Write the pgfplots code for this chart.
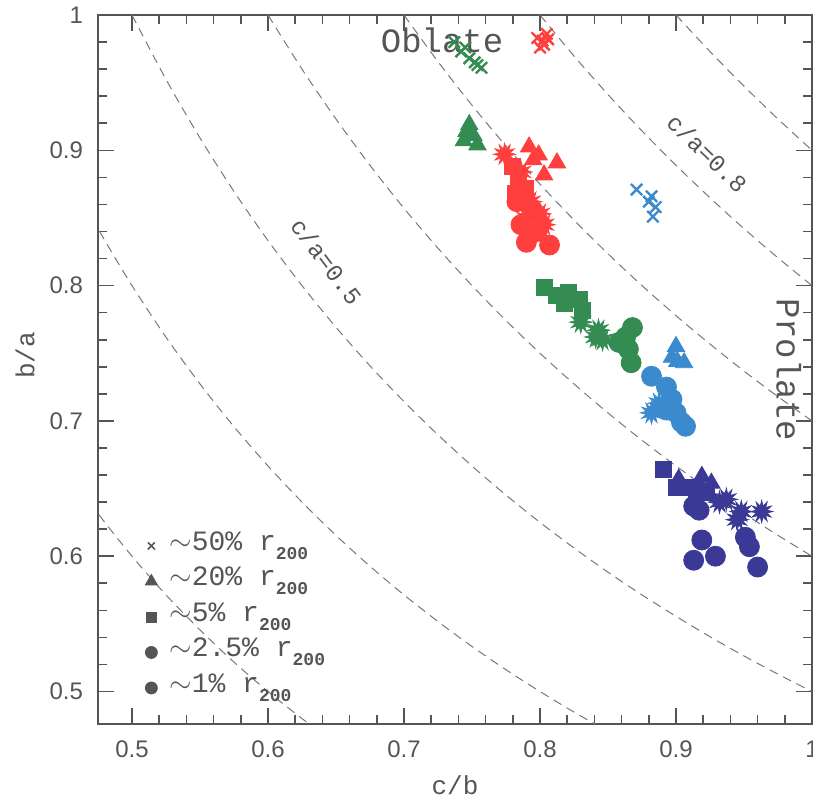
\documentclass[border=0pt]{standalone}
\usepackage{fontspec}
\setmainfont{Liberation Sans}
\newfontfamily\monof{Liberation Mono}
\usepackage{pgfplots}
\pgfplotsset{compat=1.18}
\usetikzlibrary{calc}

\definecolor{cred}{RGB}{255,62,62}
\definecolor{cgreen}{RGB}{52,140,82}
\definecolor{clblue}{RGB}{58,138,205}
\definecolor{cdblue}{RGB}{58,58,150}
\definecolor{cgray}{RGB}{85,85,85}
\definecolor{cdash}{RGB}{120,120,120}

\pgfdeclareplotmark{burst}{%
  \pgfpathmoveto{\pgfpointpolar{0}{\pgfplotmarksize}}%
  \pgfpathlineto{\pgfpointpolar{15}{0.5*\pgfplotmarksize}}%
  \pgfpathlineto{\pgfpointpolar{30}{\pgfplotmarksize}}%
  \pgfpathlineto{\pgfpointpolar{45}{0.5*\pgfplotmarksize}}%
  \pgfpathlineto{\pgfpointpolar{60}{\pgfplotmarksize}}%
  \pgfpathlineto{\pgfpointpolar{75}{0.5*\pgfplotmarksize}}%
  \pgfpathlineto{\pgfpointpolar{90}{\pgfplotmarksize}}%
  \pgfpathlineto{\pgfpointpolar{105}{0.5*\pgfplotmarksize}}%
  \pgfpathlineto{\pgfpointpolar{120}{\pgfplotmarksize}}%
  \pgfpathlineto{\pgfpointpolar{135}{0.5*\pgfplotmarksize}}%
  \pgfpathlineto{\pgfpointpolar{150}{\pgfplotmarksize}}%
  \pgfpathlineto{\pgfpointpolar{165}{0.5*\pgfplotmarksize}}%
  \pgfpathlineto{\pgfpointpolar{180}{\pgfplotmarksize}}%
  \pgfpathlineto{\pgfpointpolar{195}{0.5*\pgfplotmarksize}}%
  \pgfpathlineto{\pgfpointpolar{210}{\pgfplotmarksize}}%
  \pgfpathlineto{\pgfpointpolar{225}{0.5*\pgfplotmarksize}}%
  \pgfpathlineto{\pgfpointpolar{240}{\pgfplotmarksize}}%
  \pgfpathlineto{\pgfpointpolar{255}{0.5*\pgfplotmarksize}}%
  \pgfpathlineto{\pgfpointpolar{270}{\pgfplotmarksize}}%
  \pgfpathlineto{\pgfpointpolar{285}{0.5*\pgfplotmarksize}}%
  \pgfpathlineto{\pgfpointpolar{300}{\pgfplotmarksize}}%
  \pgfpathlineto{\pgfpointpolar{315}{0.5*\pgfplotmarksize}}%
  \pgfpathlineto{\pgfpointpolar{330}{\pgfplotmarksize}}%
  \pgfpathlineto{\pgfpointpolar{345}{0.5*\pgfplotmarksize}}%
  \pgfpathclose
  \pgfusepathqfillstroke}

\begin{document}
\begin{tikzpicture}
\begin{axis}[
  scale only axis, width=357pt, height=354.5pt,
  xmin=0.475, xmax=1.0, ymin=0.476, ymax=1.0,
  xtick={0.5,0.6,0.7,0.8,0.9,1.0}, xticklabels={0.5,0.6,0.7,0.8,0.9,1},
  ytick={0.5,0.6,0.7,0.8,0.9,1.0}, yticklabels={0.5,0.6,0.7,0.8,0.9,1},
  minor x tick num=4, minor y tick num=4,
  tick align=inside, major tick length=8pt, minor tick length=4.5pt,
  axis line style={cgray, line width=1pt},
  every tick/.style={cgray, line width=0.8pt},
  tick label style={font=\fontsize{12}{12}\selectfont, text=cgray},
  /pgf/number format/assume math mode=true,
  yticklabel style={xshift=-4pt},
  xticklabel style={yshift=-5pt},
  xlabel={\monof c/b}, ylabel={\monof b/a},
  label style={font=\monof\fontsize{13}{13}\selectfont, text=cgray},
  xlabel style={at={(axis description cs:0.5,-0.086)}, anchor=center},
  ylabel style={at={(axis description cs:-0.102,0.52)}, anchor=center},
  legend style={at={(axis cs:0.5095,0.621)}, anchor=north west, draw=none, fill=none,
    inner sep=0pt, font=\monof\fontsize{14}{14}\selectfont, text=cgray,
    nodes={text height=11pt, text depth=6.75pt, inner ysep=0pt, inner xsep=1pt},
    /tikz/every odd column/.style={column sep=5pt}},
  legend cell align=left,
  legend image code/.code={\draw[#1] plot coordinates {(0pt,0pt)};},
]
% legend
\addlegendimage{mark=x, mark size=2.5pt, cgray, line width=0.8pt}
\addlegendentry{$\sim$50\% r\raisebox{-0.6ex}{\fontsize{9}{9}\selectfont\bfseries 200}}
\addlegendimage{mark=triangle*, mark size=3.5pt, cgray}
\addlegendentry{$\sim$20\% r\raisebox{-0.6ex}{\fontsize{9}{9}\selectfont\bfseries 200}}
\addlegendimage{mark=square*, mark size=2.5pt, cgray}
\addlegendentry{$\sim$5\% r\raisebox{-0.6ex}{\fontsize{9}{9}\selectfont\bfseries 200}}
\addlegendimage{mark=*, mark size=3pt, cgray}
\addlegendentry{$\sim$2.5\% r\raisebox{-0.6ex}{\fontsize{9}{9}\selectfont\bfseries 200}}
\addlegendimage{mark=*, mark size=3pt, cgray}
\addlegendentry{$\sim$1\% r\raisebox{-0.6ex}{\fontsize{9}{9}\selectfont\bfseries 200}}

\node[font=\monof\fontsize{17}{17}\selectfont, text=cgray] at (axis cs:0.728,0.981) {Oblate};
\node[font=\monof\fontsize{17}{17}\selectfont, text=cgray, rotate=-90] at (axis cs:0.983,0.738) {Prolate};
\node[font=\monof\fontsize{12}{12}\selectfont, text=cgray, rotate=-53] at (axis cs:0.643,0.818) {c/a=0.5};
\node[font=\monof\fontsize{12}{12}\selectfont, text=cgray, rotate=-44] at (axis cs:0.923,0.898) {c/a=0.8};

% ---------------- red
\addplot[forget plot, only marks, mark=x, mark size=4pt, cred, line width=1.2pt] coordinates {
 (0.798,0.983) (0.803,0.978) (0.806,0.982) (0.800,0.976) (0.805,0.986) (0.802,0.981)};
\addplot[forget plot, only marks, mark=triangle*, mark size=5pt, cred] coordinates {
 (0.792,0.9025) (0.799,0.8966) (0.8125,0.8907) (0.803,0.8818) (0.795,0.893)};
\addplot[forget plot, only marks, mark=square*, mark size=4pt, cred] coordinates {
 (0.780,0.888) (0.784,0.877) (0.782,0.868) (0.789,0.872)};
\addplot[forget plot, only marks, mark=burst, mark size=5.5pt, cred] coordinates {
 (0.774,0.897) (0.786,0.884) (0.793,0.862) (0.800,0.853) (0.803,0.845) (0.790,0.850)};
\addplot[forget plot, only marks, mark=*, mark size=5pt, cred] coordinates {
 (0.790,0.832) (0.807,0.830) (0.786,0.845) (0.798,0.840) (0.783,0.862) (0.795,0.855)};
% ---------------- green
\addplot[forget plot, only marks, mark=x, mark size=4pt, cgreen, line width=1.2pt] coordinates {
 (0.737,0.980) (0.742,0.973) (0.748,0.968) (0.752,0.965) (0.757,0.961) (0.745,0.976) (0.754,0.963)};
\addplot[forget plot, only marks, mark=triangle*, mark size=5pt, cgreen] coordinates {
 (0.748,0.919) (0.751,0.911) (0.754,0.904) (0.744,0.907) (0.746,0.914)};
\addplot[forget plot, only marks, mark=square*, mark size=4pt, cgreen] coordinates {
 (0.803,0.799) (0.812,0.793) (0.821,0.795) (0.829,0.790) (0.818,0.787) (0.831,0.782)};
\addplot[forget plot, only marks, mark=burst, mark size=5.5pt, cgreen] coordinates {
 (0.830,0.773) (0.843,0.767) (0.846,0.760) (0.841,0.762)};
\addplot[forget plot, only marks, mark=*, mark size=5pt, cgreen] coordinates {
 (0.868,0.769) (0.863,0.762) (0.865,0.753) (0.867,0.743) (0.858,0.758)};
% ---------------- light blue
\addplot[forget plot, only marks, mark=x, mark size=4pt, clblue, line width=1.2pt] coordinates {
 (0.871,0.871) (0.882,0.866) (0.885,0.858) (0.883,0.851) (0.880,0.862)};
\addplot[forget plot, only marks, mark=triangle*, mark size=5pt, clblue] coordinates {
 (0.900,0.755) (0.897,0.747) (0.906,0.743) (0.901,0.744)};
\addplot[forget plot, only marks, mark=burst, mark size=5.5pt, clblue] coordinates {
 (0.882,0.706) (0.8875,0.713)};
\addplot[forget plot, only marks, mark=*, mark size=5pt, clblue] coordinates {
 (0.882,0.733) (0.893,0.725) (0.897,0.716) (0.900,0.706) (0.904,0.699) (0.907,0.696) (0.893,0.708)};
% ---------------- dark blue
\addplot[forget plot, only marks, mark=square*, mark size=4pt, cdblue] coordinates {
 (0.891,0.664) (0.907,0.651) (0.915,0.649) (0.900,0.651) (0.922,0.647)};
\addplot[forget plot, only marks, mark=triangle*, mark size=5pt, cdblue] coordinates {
 (0.902,0.657) (0.919,0.659) (0.926,0.654)};
\addplot[forget plot, only marks, mark=burst, mark size=5.5pt, cdblue] coordinates {
 (0.932,0.640) (0.937,0.642) (0.948,0.633) (0.945,0.627) (0.963,0.633)};
\addplot[forget plot, only marks, mark=*, mark size=5pt, cdblue] coordinates {
 (0.913,0.637) (0.917,0.634) (0.919,0.612) (0.929,0.600) (0.913,0.597) (0.951,0.614) (0.954,0.607) (0.960,0.592)};

% ---------------- c/a = const curves
\pgfplotsset{dashc/.style={forget plot, no marks, smooth, cdash, line width=0.5pt, dash pattern=on 4.5pt off 3pt}}
\addplot[dashc] coordinates {(0.45,0.6667) (0.475,0.6316) (0.5,0.6) (0.525,0.5714) (0.55,0.5455) (0.575,0.5217) (0.6,0.5) (0.625,0.48) (0.65,0.4615)};
\addplot[dashc] coordinates {(0.45,0.8889) (0.475,0.8421) (0.5,0.8) (0.525,0.7619) (0.55,0.7273) (0.575,0.6957) (0.6,0.6667) (0.625,0.64) (0.65,0.6154) (0.675,0.5926) (0.7,0.5714) (0.725,0.5517) (0.75,0.5333) (0.775,0.5161) (0.8,0.5) (0.825,0.4848) (0.85,0.4706)};
\addplot[dashc] coordinates {(0.5,1.0) (0.525,0.9524) (0.55,0.9091) (0.575,0.8696) (0.6,0.8333) (0.625,0.8) (0.65,0.7692) (0.675,0.7407) (0.7,0.7143) (0.725,0.6897) (0.75,0.6667) (0.775,0.6452) (0.8,0.625) (0.825,0.6061) (0.85,0.5882) (0.875,0.5714) (0.9,0.5556) (0.925,0.5405) (0.95,0.5263) (0.975,0.5128) (1.0,0.5)};
\addplot[dashc] coordinates {(0.6,1.0) (0.625,0.96) (0.65,0.9231) (0.675,0.8889) (0.7,0.8571) (0.725,0.8276) (0.75,0.8) (0.775,0.7742) (0.8,0.75) (0.825,0.7273) (0.85,0.7059) (0.875,0.6857) (0.9,0.6667) (0.925,0.6486) (0.95,0.6316) (0.975,0.6154) (1.0,0.6)};
\addplot[dashc] coordinates {(0.7,1.0) (0.725,0.9655) (0.75,0.9333) (0.775,0.9032) (0.8,0.875) (0.825,0.8485) (0.85,0.8235) (0.875,0.8) (0.9,0.7778) (0.925,0.7568) (0.95,0.7368) (0.975,0.7179) (1.0,0.7)};
\addplot[dashc] coordinates {(0.8,1.0) (0.825,0.9697) (0.85,0.9412) (0.875,0.9143) (0.9,0.8889) (0.925,0.8649) (0.95,0.8421) (0.975,0.8205) (1.0,0.8)};
\addplot[dashc] coordinates {(0.9,1.0) (0.925,0.9730) (0.95,0.9474) (0.975,0.9231) (1.0,0.9)};
\end{axis}
\pgfresetboundingbox
\path ($(current axis.south west)+(-49pt,-40.5pt)$) rectangle ($(current axis.north east)+(0.5pt,7.5pt)$);
\end{tikzpicture}
\end{document}
